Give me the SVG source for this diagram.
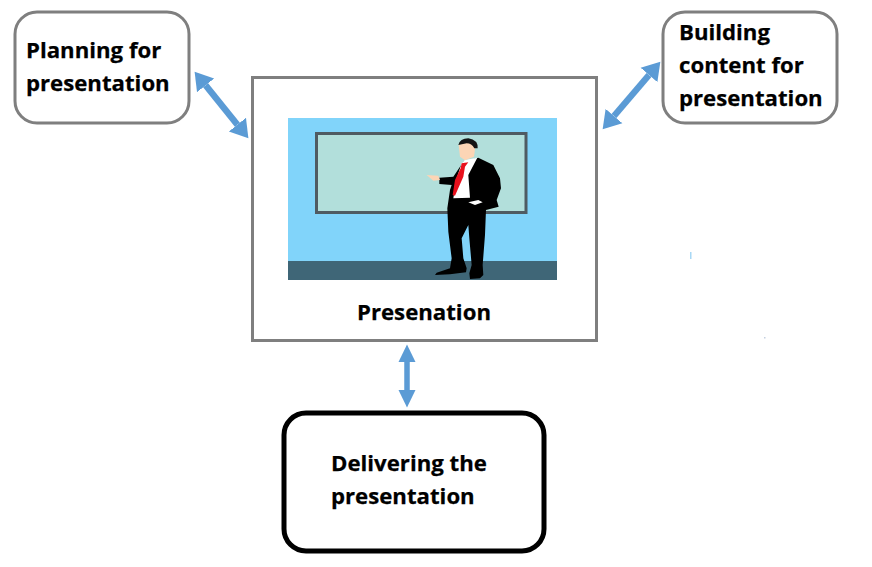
<svg xmlns="http://www.w3.org/2000/svg" width="872" height="567" viewBox="0 0 872 567">
<style>
.t{font-family:"Open Sans","Noto Sans","Liberation Sans",sans-serif;font-weight:700;font-size:22.2px;fill:#000;stroke:#000;stroke-width:.25}
.b{fill:#fff;stroke:#7f7f7f;stroke-width:3}
.c{stroke:#5b9bd5;stroke-width:5.500;fill:none;marker-start:url(#ah);marker-end:url(#ah)}
.d{stroke:#5b9bd5;stroke-width:6.500;fill:none;marker-start:url(#ad);marker-end:url(#ad)}
</style>
<defs>
<marker id="ah" markerUnits="userSpaceOnUse" markerWidth="18" markerHeight="18" viewBox="0 0 18 18" refX="0" refY="9" orient="auto-start-reverse"><path d="M0 .5L17.500 9L0 17.500Z" fill="#5b9bd5"/></marker>
<marker id="ad" markerUnits="userSpaceOnUse" markerWidth="24" markerHeight="24" viewBox="0 0 24 24" refX="0" refY="12" orient="auto-start-reverse"><path d="M0 1L17.500 12L0 23Z" fill="#5b9bd5"/></marker>
</defs>
<rect width="872" height="567" fill="#fff"/>
<rect x="690" y="252" width="1.500" height="7" fill="#a8d8f5"/>
<rect x="764" y="337" width="1.500" height="1.500" fill="#c4d0e0"/>
<g id="connectors">
<line class="d" x1="205.600" y1="85.300" x2="237.400" y2="124.700"/>
<line class="d" x1="649" y1="75" x2="614" y2="116"/>
<line class="c" x1="407" y1="362" x2="407" y2="390"/>
</g>
<g id="planning">
<rect class="b" x="15" y="12" width="174" height="111" rx="22"/>
<text class="t" x="26" y="57.500">Planning for</text>
<text class="t" x="26" y="90.500">presentation</text>
</g>
<g id="building">
<rect class="b" x="663" y="12" width="174" height="111" rx="22"/>
<text class="t" x="679" y="39.500">Building</text>
<text class="t" x="679" y="72.500">content for</text>
<text class="t" x="679" y="105.500">presentation</text>
</g>
<g id="presentation">
<rect class="b" x="252.500" y="77.500" width="344" height="263"/>
<rect x="288" y="118" width="269" height="162" fill="#81d4fa"/>
<rect x="288" y="261" width="269" height="19" fill="#3f6677"/>
<rect x="316.500" y="133.500" width="209.500" height="79" fill="#b2dfdb" stroke="#4f5b62" stroke-width="3"/>
<g transform="translate(400 125) scale(.3333)">
<path d="M190 110L235 98L280 120L300 160L303 190L290 225L296 245L258 255L255 330L248 420L250 450L240 460L210 462L208 445L215 420L208 340L205 300L185 340L190 400L200 430L198 442L150 448L105 450L110 443L150 430L155 400L145 320L142 250L150 195L155 180L118 177L118 158L160 155Z" fill="#000"/>
<path d="M195 105L232 98L205 150L210 218L160 220L170 160L185 115Z" fill="#fff"/>
<path d="M185 115L205 112L195 125L190 155L165 212L158 210L165 165L182 130Z" fill="#e8101c"/>
<path d="M176 60L180 95L195 106L222 95L226 65L205 50Z" fill="#fcd5b5"/>
<path d="M175 60Q180 40 205 40Q235 45 233 70L223 70Q215 55 200 55Z" fill="#141414"/>
<path d="M80 150L115 152L120 165L100 167Z" fill="#fcd5b5"/>
<path d="M205 232L235 225L248 232L225 240Z" fill="#fff"/>
</g>
<text class="t" x="357" y="319.500">Presenation</text>
</g>
<g id="delivering">
<rect x="284" y="413" width="260" height="138" rx="22" fill="#fff" stroke="#000" stroke-width="5"/>
<text class="t" x="331" y="470.500">Delivering the</text>
<text class="t" x="331" y="503.500">presentation</text>
</g>
</svg>
